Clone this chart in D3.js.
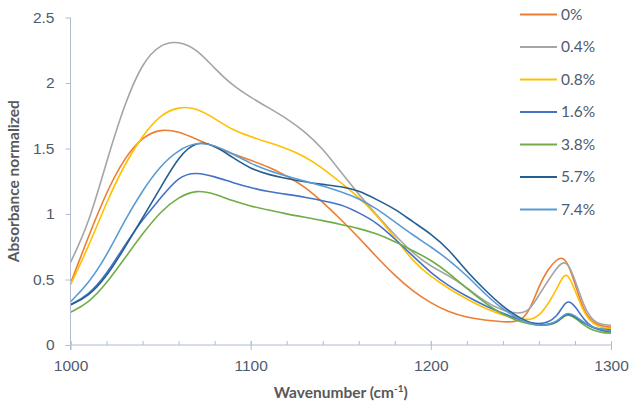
<!DOCTYPE html>
<html>
<head>
<meta charset="utf-8">
<script src="https://cdn.jsdelivr.net/npm/d3@7"></script>
<style>
    html, body { margin: 0; padding: 0; background: #fff; }
    svg { display: block; font-family: Lato, "Open Sans", sans-serif; }
</style>
</head>
<body>
<svg id="chart"></svg>
<script>
let wavenumbers = [1000, 1010, 1020, 1030, 1040, 1050, 1060, 1070, 1080, 1090,
                   1100, 1110, 1120, 1130, 1140, 1150, 1160, 1170, 1180, 1190,
                   1200, 1210, 1220, 1230, 1240, 1250, 1255, 1260, 1265, 1270,
                   1273, 1276, 1280, 1285, 1290, 1295, 1300];

let seriesNames = ['0%', '0.4%', '0.8%', '1.6%', '3.8%', '5.7%', '7.4%'];
let seriesColors = ['#ed7d31', '#a5a5a5', '#ffc000', '#4472c4', '#70ad47', '#255e91', '#5b9bd5'];

let abs0 = [0.47, 0.83, 1.17, 1.43, 1.59, 1.65, 1.63, 1.57, 1.51, 1.46,
            1.41, 1.36, 1.29, 1.21, 1.09, 0.96, 0.82, 0.67, 0.53, 0.41,
            0.32, 0.25, 0.21, 0.19, 0.175, 0.175, 0.27, 0.45, 0.58, 0.655,
            0.67, 0.63, 0.47, 0.25, 0.17, 0.145, 0.135];
let abs04 = [0.63, 0.92, 1.40, 1.84, 2.16, 2.30, 2.32, 2.26, 2.11, 1.98,
             1.89, 1.81, 1.73, 1.63, 1.50, 1.32, 1.15, 0.99, 0.84, 0.70,
             0.60, 0.53, 0.44, 0.33, 0.26, 0.235, 0.27, 0.38, 0.49, 0.59,
             0.63, 0.63, 0.50, 0.29, 0.18, 0.155, 0.15];
let abs08 = [0.46, 0.75, 1.09, 1.38, 1.60, 1.76, 1.82, 1.81, 1.73, 1.64,
             1.59, 1.545, 1.50, 1.44, 1.35, 1.24, 1.13, 0.99, 0.82, 0.64,
             0.52, 0.43, 0.35, 0.28, 0.225, 0.20, 0.19, 0.22, 0.31, 0.43,
             0.52, 0.55, 0.42, 0.24, 0.16, 0.13, 0.125];
let abs16 = [0.31, 0.38, 0.54, 0.76, 0.96, 1.12, 1.29, 1.32, 1.285, 1.24,
             1.20, 1.17, 1.15, 1.13, 1.10, 1.075, 1.01, 0.935, 0.81, 0.68,
             0.55, 0.45, 0.37, 0.30, 0.24, 0.19, 0.17, 0.16, 0.17, 0.22,
             0.29, 0.345, 0.30, 0.19, 0.13, 0.11, 0.10];
let abs38 = [0.25, 0.32, 0.47, 0.66, 0.85, 1.02, 1.13, 1.185, 1.155, 1.10,
             1.06, 1.03, 1.00, 0.975, 0.95, 0.92, 0.89, 0.85, 0.79, 0.72,
             0.65, 0.55, 0.43, 0.32, 0.23, 0.175, 0.16, 0.15, 0.15, 0.17,
             0.21, 0.235, 0.21, 0.15, 0.11, 0.095, 0.09];
let abs57 = [0.305, 0.37, 0.52, 0.74, 0.97, 1.20, 1.44, 1.56, 1.525, 1.43,
             1.345, 1.30, 1.27, 1.245, 1.225, 1.21, 1.18, 1.11, 1.04, 0.94,
             0.85, 0.73, 0.56, 0.42, 0.29, 0.20, 0.17, 0.155, 0.155, 0.175,
             0.215, 0.245, 0.22, 0.165, 0.13, 0.12, 0.115];
let abs74 = [0.33, 0.47, 0.68, 0.95, 1.18, 1.37, 1.49, 1.55, 1.525, 1.46,
             1.385, 1.33, 1.29, 1.25, 1.215, 1.17, 1.12, 1.04, 0.94, 0.84,
             0.75, 0.65, 0.53, 0.39, 0.27, 0.19, 0.165, 0.15, 0.155, 0.18,
             0.22, 0.25, 0.225, 0.17, 0.135, 0.12, 0.11];

let xTicks = [1000, 1100, 1200, 1300];
let xMinorTicks = d3.range(1000, 1301, 20);
let yTicks = [0, 0.5, 1, 1.5, 2, 2.5];

let width = 630;
let height = 405;
let margin = {top: 17.5, right: 19, bottom: 60, left: 70.5};

let allSeries = [abs0, abs04, abs08, abs16, abs38, abs57, abs74];
let series = seriesNames.map((name, i) => ({
    name: name,
    color: seriesColors[i],
    points: wavenumbers.map((w, j) => ({w: w, a: allSeries[i][j]}))
}));

let axisColor = '#b0bcd0';
let textColor = '#4f5b6d';

let xScale = d3.scaleLinear()
               .domain([1000, 1300])
               .range([margin.left, width - margin.right]);
let yScale = d3.scaleLinear()
               .domain([0, 2.5])
               .range([height - margin.bottom, margin.top]);

let svg = d3.select('#chart')
            .attr('width', width)
            .attr('height', height);

// curves first so the axes sit on top
let line = d3.line()
             .x(d => xScale(d.w))
             .y(d => yScale(d.a))
             .curve(d3.curveBasis);

svg.append('g')
   .selectAll('path')
   .data(series)
   .enter().append('path')
   .attr('d', d => line(d.points))
   .attr('fill', 'none')
   .attr('stroke', d => d.color)
   .attr('stroke-width', 1.6);

// y axis
let yAxis = svg.append('g')
               .attr('transform', `translate(${margin.left},0)`)
               .call(d3.axisLeft(yScale).tickValues(yTicks).tickSize(5).tickPadding(11).tickFormat(d3.format('')));
yAxis.select('.domain').attr('stroke', axisColor).attr('d', `M0,${yScale(2.5)}V${yScale(0) + 5}`);
yAxis.selectAll('.tick line').attr('stroke', axisColor);
yAxis.selectAll('.tick text')
     .attr('fill', textColor)
     .style('font-size', '15.5px');

// x axis: minor ticks point up, major ticks cross the line
let xAxisG = svg.append('g')
                .attr('transform', `translate(0,${yScale(0)})`);
xAxisG.append('g')
      .call(d3.axisTop(xScale).tickValues(xMinorTicks).tickSize(4).tickFormat(''))
      .call(g => g.select('.domain').remove())
      .selectAll('.tick line').attr('stroke', axisColor);
let xAxis = xAxisG.append('g')
                  .call(d3.axisBottom(xScale).tickValues(xTicks).tickSize(5).tickPadding(10).tickFormat(d3.format('')));
xAxis.select('.domain').attr('stroke', axisColor).attr('d', `M${xScale(1000)},0H${xScale(1300)}`);
xAxis.selectAll('.tick line').attr('stroke', axisColor).attr('y1', -4);
xAxis.selectAll('.tick text')
     .attr('fill', textColor)
     .style('font-size', '15.5px');

// axis titles
svg.append('text')
   .attr('transform', `translate(19,${(yScale(0) + yScale(2.5)) / 2}) rotate(-90)`)
   .attr('text-anchor', 'middle')
   .attr('fill', '#595959')
   .style('font-size', '15.5px')
   .style('font-weight', 'bold')
   .text('Absorbance normalized');

let xTitle = svg.append('text')
                .attr('x', (xScale(1000) + xScale(1300)) / 2)
                .attr('y', 398)
                .attr('text-anchor', 'middle')
                .attr('fill', '#595959')
                .style('font-size', '15.5px')
                .style('font-weight', 'bold');
xTitle.append('tspan').text('Wavenumber (cm');
xTitle.append('tspan').attr('dy', -6).style('font-size', '10px').text('-1');
xTitle.append('tspan').attr('dy', 6).text(')');

// legend
let legend = svg.append('g')
                .selectAll('g')
                .data(series)
                .enter().append('g')
                .attr('transform', (d, i) => `translate(520,${14.5 + i * 32.5})`);
legend.append('line')
      .attr('x1', 0)
      .attr('x2', 37)
      .attr('stroke', d => d.color)
      .attr('stroke-width', 2);
legend.append('text')
      .attr('x', 41)
      .attr('dy', '0.35em')
      .attr('fill', textColor)
      .style('font-size', '15.5px')
      .text(d => d.name);
</script>
</body>
</html>
